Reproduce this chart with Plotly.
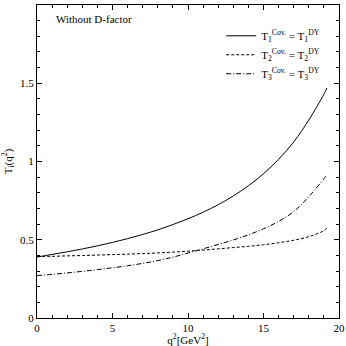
import plotly.graph_objects as go

# q^2 grid [GeV^2]
q2 = [0, 1, 2, 3, 4, 5, 6, 7, 8, 9, 10, 11, 12, 13, 14, 15, 16, 17, 18, 19, 19.2]

# T1, T2, T3
t1 = [0.39, 0.406, 0.423, 0.441, 0.461, 0.483, 0.507, 0.534, 0.563, 0.597, 0.634,
      0.676, 0.724, 0.78, 0.845, 0.922, 1.014, 1.125, 1.265, 1.43, 1.47]
t2 = [0.392, 0.394, 0.397, 0.399, 0.402, 0.405, 0.408, 0.412, 0.416, 0.421, 0.427,
      0.434, 0.442, 0.45, 0.458, 0.468, 0.481, 0.497, 0.52, 0.558, 0.575]
t3 = [0.271, 0.279, 0.288, 0.298, 0.309, 0.321, 0.334, 0.349, 0.367, 0.389, 0.415,
      0.442, 0.47, 0.499, 0.531, 0.57, 0.617, 0.68, 0.775, 0.89, 0.915]

names = ["T<sub>1</sub><sup>Cov.</sup> = T<sub>1</sub><sup>DY</sup>",
         "T<sub>2</sub><sup>Cov.</sup> = T<sub>2</sub><sup>DY</sup>",
         "T<sub>3</sub><sup>Cov.</sup> = T<sub>3</sub><sup>DY</sup>"]
dashes = ["solid", "3px,2px", "5px,2px,1px,2px"]

serif = "Liberation Serif"

fig = go.Figure()
for ys, nm, d in zip([t1, t2, t3], names, dashes):
    fig.add_trace(go.Scatter(x=q2, y=ys, mode="lines", name=nm,
                             line=dict(color="black", width=1, dash=d, shape="spline")))

axis_common = dict(
    showgrid=False, zeroline=False, showline=True, linecolor="black", linewidth=1,
    mirror="allticks", ticks="inside", ticklen=5, tickcolor="black", tickwidth=1,
    tickfont=dict(family=serif, size=11, color="black"), automargin=False,
)

fig.update_xaxes(range=[0, 20], dtick=5, tick0=0,
                 minor=dict(dtick=1, ticks="inside", ticklen=3, tickcolor="black"),
                 title=dict(text="q<sup>2</sup>[GeV<sup>2</sup>]", standoff=0,
                            font=dict(family=serif, size=11, color="black")),
                 **axis_common)
fig.update_yaxes(range=[0, 2], dtick=0.5, tick0=0,
                 minor=dict(dtick=0.1, ticks="inside", ticklen=3, tickcolor="black"),
                 title=dict(text="T<sub>i</sub>(q<sup>2</sup>)", standoff=6,
                            font=dict(family=serif, size=11, color="black")),
                 **axis_common)

fig.add_annotation(text="Without D-factor", xref="paper", yref="paper",
                   x=0.055, y=0.955, xanchor="left", yanchor="middle", showarrow=False,
                   font=dict(family=serif, size=11, color="black"))

fig.update_layout(
    width=346, height=346,
    margin=dict(l=37, r=7, t=5, b=28),
    plot_bgcolor="white", paper_bgcolor="white",
    font=dict(family=serif, size=11, color="black"),
    legend=dict(x=0.61, y=0.948, xanchor="left", yanchor="top",
                bgcolor="rgba(0,0,0,0)", itemwidth=30, tracegroupgap=0,
                font=dict(family=serif, size=11, color="black")),
)

fig.write_html("out.html", config={"displayModeBar": False},
               post_script="document.body.style.margin='0px';")
